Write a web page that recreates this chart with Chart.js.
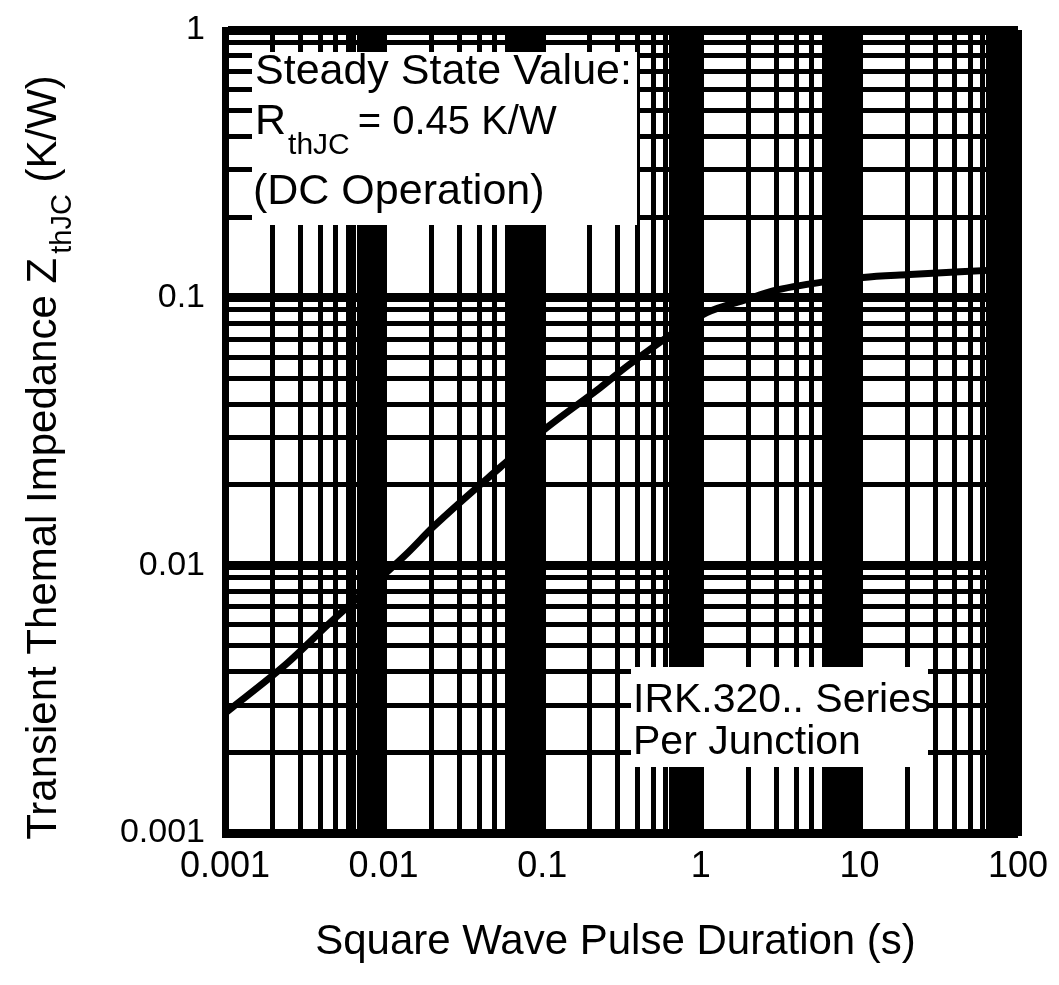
<!DOCTYPE html>
<html lang="en">

<head>
    <meta charset="UTF-8">
    <title>Transient Thermal Impedance</title>
    <script src="https://cdn.jsdelivr.net/npm/chart.js"></script>
    <style>
        body { margin: 0; background: #fff; }
    </style>
</head>

<body>
    <canvas id="graficoZth" width="1059" height="985"></canvas>
</body>
<script>
    // pulse duration (s) and Z thJC (K/W)
    var duracao = [0.001, 0.00246, 0.00459, 0.0141, 0.0205, 0.0542, 0.107, 0.231, 0.358, 1.09, 1.95, 2.85, 6.25, 10.5, 20.8, 43, 100]
    var impedancia = [0.0028, 0.0043, 0.0061, 0.0111, 0.0139, 0.0232, 0.0327, 0.046, 0.0565, 0.0879, 0.0985, 0.106, 0.115, 0.119, 0.122, 0.125, 0.128]

    var xTickValues = [0.001, 0.01, 0.1, 1, 10, 100]
    var xTickLabels = ['0.001', '0.01', '0.1', '1', '10', '100']
    var yTickValues = [0.001, 0.01, 0.1, 1]
    var yTickLabels = ['0.001', '0.01', '0.1', '1']

    var tituloX = 'Square Wave Pulse Duration (s)'
    var tituloY = ['Transient Themal Impedance Z', 'thJC', ' (K/W)']
    var notaSteady = ['Steady State Value:', 'R', 'thJC', '= 0.45 K/W', '(DC Operation)']
    var notaSerie = ['IRK.320.. Series', 'Per Junction']

    var fonte = "'Liberation Sans', Arial, sans-serif"

    // grid lines inside every decade (the scan has a dark cluster before each decade)
    var passosX = [1, 2, 3, 4, 5, 6, 6.5, 7, 7.5, 8, 8.5, 9, 9.5]
    var passosY = [1, 2, 3, 4, 5, 6, 7, 8, 9]

    function ticksLog(min, max, passos) {
        var lista = []
        for (var k = Math.round(Math.log10(min)); k < Math.round(Math.log10(max)); k++) {
            passos.forEach(function (n) {
                lista.push({ value: Number((n * Math.pow(10, k)).toPrecision(6)) })
            })
        }
        lista.push({ value: max })
        return lista
    }

    function ehDecada(v) {
        var l = Math.log10(v)
        return Math.abs(l - Math.round(l)) < 1e-9
    }

    function rotulo(valores, rotulos) {
        return function (value) {
            for (var i = 0; i < valores.length; i++) {
                if (Math.abs(valores[i] - value) < valores[i] * 1e-6) return rotulos[i]
            }
            return ''
        }
    }

    const textos = {
        id: 'textos',
        beforeDatasetsDraw(chart) {
            const ctx = chart.ctx
            const a = chart.chartArea
            ctx.save()
            ctx.fillStyle = '#fff'
            ctx.fillRect(a.left + 27, a.top + 22, 385, 173)
            ctx.fillRect(a.left + 406, a.top + 637, 297, 100)

            ctx.fillStyle = '#000'
            ctx.textBaseline = 'alphabetic'
            ctx.textAlign = 'left'
            var x0 = a.left + 30
            ctx.font = '43px ' + fonte
            ctx.fillText(notaSteady[0], x0, a.top + 54)
            ctx.fillText(notaSteady[1], x0, a.top + 104)
            var wR = ctx.measureText(notaSteady[1]).width
            ctx.font = '30px ' + fonte
            ctx.fillText(notaSteady[2], x0 + wR + 2, a.top + 124)
            var wSub = ctx.measureText(notaSteady[2]).width
            ctx.font = '40px ' + fonte
            ctx.fillText(notaSteady[3], x0 + wR + wSub + 10, a.top + 104)
            ctx.font = '43px ' + fonte
            ctx.fillText(notaSteady[4], x0 - 2, a.top + 174)

            ctx.font = '41px ' + fonte
            ctx.fillText(notaSerie[0], a.left + 408, a.top + 682)
            ctx.fillText(notaSerie[1], a.left + 408, a.top + 724)
            ctx.restore()
        },
        afterDraw(chart) {
            const ctx = chart.ctx
            const a = chart.chartArea
            ctx.save()
            ctx.fillStyle = '#000'
            ctx.textBaseline = 'alphabetic'
            ctx.textAlign = 'center'
            ctx.font = '42px ' + fonte
            ctx.fillText(tituloX, (a.left + a.right) / 2 - 6, 954)

            // y title, rotated, with subscript
            ctx.textAlign = 'left'
            ctx.font = '42px ' + fonte
            var w1 = ctx.measureText(tituloY[0]).width
            var w3 = ctx.measureText(tituloY[2]).width
            ctx.font = '29px ' + fonte
            var w2 = ctx.measureText(tituloY[1]).width
            var total = w1 + 4 + w2 + w3
            ctx.translate(56, (a.top + a.bottom) / 2 + 26 + total / 2)
            ctx.rotate(-Math.PI / 2)
            ctx.font = '42px ' + fonte
            ctx.fillText(tituloY[0], 0, 0)
            ctx.font = '29px ' + fonte
            ctx.fillText(tituloY[1], w1 + 4, 15)
            ctx.font = '42px ' + fonte
            ctx.fillText(tituloY[2], w1 + 4 + w2, 0)
            ctx.restore()
        }
    }

    Chart.defaults.font.family = fonte
    Chart.defaults.color = '#000'

    const ctx = document.getElementById('graficoZth').getContext('2d')
    const graficoZth = new Chart(ctx, {
        type: 'line',
        data: {
            datasets: [{
                data: duracao.map(function (d, i) { return { x: d, y: impedancia[i] } }),
                borderColor: '#000',
                borderWidth: 7,
                pointRadius: 0,
                fill: false,
                cubicInterpolationMode: 'monotone'
            }]
        },
        options: {
            responsive: false,
            devicePixelRatio: 1,
            animation: false,
            layout: { padding: { left: 0, right: 41, top: 30, bottom: 0 } },
            plugins: {
                legend: { display: false },
                tooltip: { enabled: false }
            },
            scales: {
                x: {
                    type: 'logarithmic',
                    min: 0.001,
                    max: 100,
                    afterBuildTicks: function (scale) { scale.ticks = ticksLog(0.001, 100, passosX) },
                    afterFit: function (scale) {
                        scale.height = 152
                        scale.paddingLeft = 0
                        scale.paddingRight = 0
                    },
                    grid: {
                        color: '#000',
                        drawTicks: false,
                        lineWidth: function (c) { return c.tick && ehDecada(c.tick.value) ? 7 : 5 }
                    },
                    border: { color: '#000', width: 6 },
                    ticks: {
                        autoSkip: false,
                        maxRotation: 0,
                        minRotation: 0,
                        padding: 12,
                        font: { size: 36 },
                        callback: rotulo(xTickValues, xTickLabels)
                    }
                },
                y: {
                    type: 'logarithmic',
                    min: 0.001,
                    max: 1,
                    afterBuildTicks: function (scale) { scale.ticks = ticksLog(0.001, 1, passosY) },
                    afterFit: function (scale) {
                        scale.width = 225
                        scale.paddingTop = 0
                        scale.paddingBottom = 0
                    },
                    grid: {
                        color: '#000',
                        drawTicks: false,
                        lineWidth: function (c) { return c.tick && ehDecada(c.tick.value) ? 9 : 5 }
                    },
                    border: { color: '#000', width: 6 },
                    ticks: {
                        autoSkip: false,
                        padding: 20,
                        font: { size: 34 },
                        callback: rotulo(yTickValues, yTickLabels)
                    }
                }
            }
        },
        plugins: [textos]
    })
</script>

</html>
